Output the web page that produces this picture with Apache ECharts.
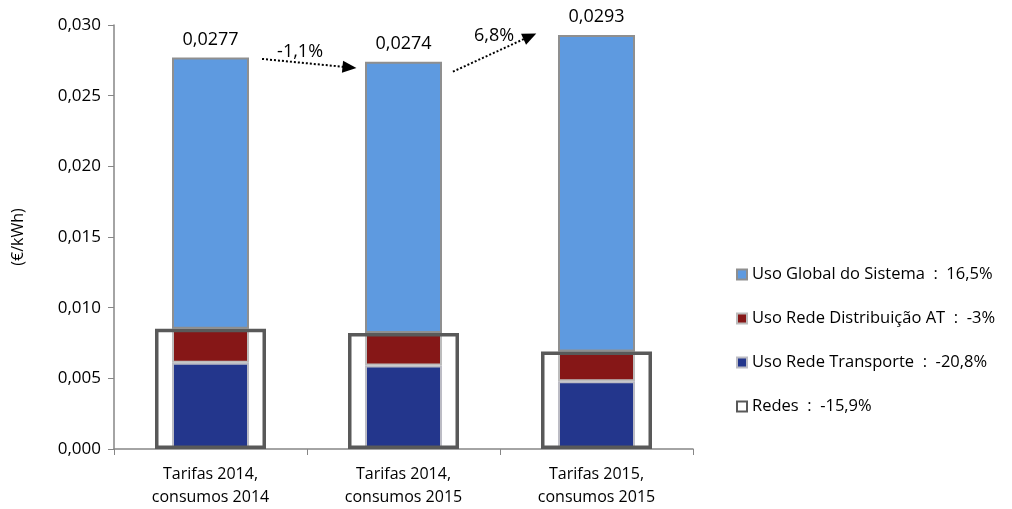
<!DOCTYPE html>
<html><head><meta charset="utf-8">
<script src="https://cdn.jsdelivr.net/npm/echarts@6/dist/echarts.min.js"></script>
<style>html,body{margin:0;padding:0;background:#fff}#c{width:1012px;height:509px}</style>
</head><body><div id="c"></div>
<script>
const categories = ['Tarifas 2014,\nconsumos 2014', 'Tarifas 2014,\nconsumos 2015', 'Tarifas 2015,\nconsumos 2015'];
const transporte = [0.0061, 0.0059, 0.0048];
const distribuicao = [0.0024, 0.0023, 0.0021];
const global = [0.0192, 0.0192, 0.0224];
const redes = [0.0085, 0.0082, 0.0069];
const totals = [0.0277, 0.0274, 0.0293];
const legendLabels = {
  'Uso Global do Sistema': 'Uso Global do Sistema  :  16,5%',
  'Uso Rede Distribuição AT': 'Uso Rede Distribuição AT  :  -3%',
  'Uso Rede Transporte': 'Uso Rede Transporte  :  -20,8%',
  'Redes': 'Redes  :  -15,9%'
};
const arrows = [[[0.267, 0.0276], [0.72, 0.0270]], [[1.256, 0.0267], [1.655, 0.0292]]];
const changeLabels = ['-1,1%', '6,8%'];
const changePos = [[0.464, 0.0281], [1.469, 0.02925]];

const FONT = 'Open Sans';
const fmt = (v, d) => v.toFixed(d).replace('.', ',');
const hiddenAxis = { show: false, axisLine: { show: false }, axisTick: { show: false }, axisLabel: { show: false }, splitLine: { show: false } };
const chart = echarts.init(document.getElementById('c'));
chart.setOption({
  animation: false,
  textStyle: { fontFamily: FONT },
  grid: { left: 114, top: 25, right: 319, bottom: 60 },
  legend: {
    orient: 'vertical', left: 731, top: 258, itemWidth: 10, itemHeight: 10, itemGap: 21,
    textStyle: { fontFamily: FONT, fontSize: 16.5, color: '#000', lineHeight: 23 },
    formatter: n => legendLabels[n],
    data: [
      { name: 'Uso Global do Sistema', icon: 'rect' },
      { name: 'Uso Rede Distribuição AT', icon: 'rect' },
      { name: 'Uso Rede Transporte', icon: 'rect' },
      { name: 'Redes', icon: 'rect', itemStyle: { color: '#fff', borderColor: '#595959', borderWidth: 2 } }
    ]
  },
  xAxis: [
    { type: 'category', data: categories,
      axisLine: { onZero: false, lineStyle: { color: '#868686', width: 1.5 } },
      axisTick: { show: true, length: 6, lineStyle: { color: '#868686' } },
      axisLabel: { color: '#000', fontSize: 16, lineHeight: 23, margin: 14, fontFamily: FONT } },
    Object.assign({ type: 'category', data: categories, position: 'bottom' }, hiddenAxis),
    Object.assign({ type: 'value', min: -0.5, max: 2.5, position: 'bottom' }, hiddenAxis)
  ],
  yAxis: {
    type: 'value', min: 0, max: 0.030, interval: 0.005, position: 'left',
    name: '(€/kWh)', nameLocation: 'middle', nameGap: 88, nameRotate: 90,
    nameTextStyle: { color: '#000', fontSize: 16, fontFamily: FONT },
    axisLine: { show: true, onZero: false, lineStyle: { color: '#868686', width: 1.5 } },
    axisTick: { show: true, length: 6, inside: false, lineStyle: { color: '#868686' } },
    splitLine: { show: false },
    axisLabel: { color: '#000', fontSize: 17, margin: 13, fontFamily: FONT, formatter: v => fmt(v, 3) }
  },
  series: [
    { name: 'Uso Rede Transporte', type: 'bar', stack: 't', data: transporte, barWidth: 77,
      itemStyle: { color: '#23368C', borderColor: '#bcbcc4', borderWidth: 2 } },
    { name: 'Uso Rede Distribuição AT', type: 'bar', stack: 't', data: distribuicao, barWidth: 77,
      itemStyle: { color: '#861717', borderColor: '#bcbcbc', borderWidth: 2 } },
    { name: 'Uso Global do Sistema', type: 'bar', stack: 't', data: global, barWidth: 77,
      itemStyle: { color: '#5E9AE0', borderColor: '#8f8f8f', borderWidth: 2 },
      label: { show: true, position: 'top', distance: 9, color: '#000', fontSize: 18, fontFamily: FONT,
        formatter: p => fmt(totals[p.dataIndex], 4) } },
    { name: 'Redes', type: 'bar', xAxisIndex: 1, data: redes, barWidth: 111, z: 5,
      itemStyle: { color: 'rgba(0,0,0,0)', borderColor: '#595959', borderWidth: 3.5 } },
    { type: 'lines', coordinateSystem: 'cartesian2d', xAxisIndex: 2, yAxisIndex: 0, z: 6,
      symbol: ['none', 'triangle'], symbolSize: [0, [12, 14]],
      lineStyle: { color: '#000', width: 2, type: [2, 2], opacity: 1, curveness: 0 },
      data: arrows.map(a => ({ coords: a })) },
    { type: 'scatter', xAxisIndex: 2, yAxisIndex: 0, symbolSize: 0, z: 6,
      itemStyle: { color: '#000', opacity: 1 },
      data: changePos.map((p, i) => ({ value: p, name: changeLabels[i] })),
      label: { show: true, position: 'inside', color: '#000', opacity: 1, textBorderWidth: 0, fontSize: 18, fontFamily: FONT, formatter: p => p.name } }
  ]
});
</script></body></html>
